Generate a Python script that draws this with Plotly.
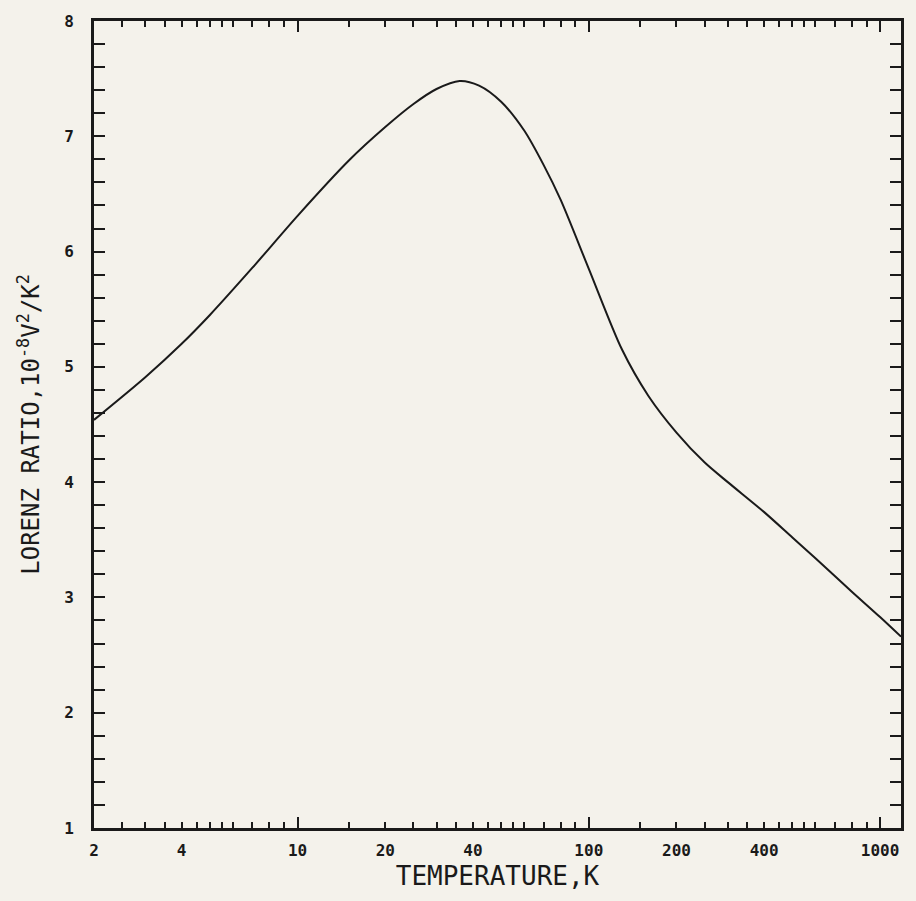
import math
import plotly.graph_objects as go

# Lorenz ratio vs temperature
temperature = [2, 3, 4, 5, 7, 10, 15, 20, 25, 30, 36, 42, 50, 60, 70, 80,
               100, 130, 160, 200, 250, 300, 400, 500, 600, 800, 1000, 1180]
lorenz = [4.54, 4.91, 5.20, 5.45, 5.86, 6.31, 6.79, 7.08, 7.28, 7.41, 7.48, 7.44,
          7.30, 7.05, 6.75, 6.45, 5.85, 5.15, 4.75, 4.43, 4.17, 4.00, 3.74, 3.52,
          3.34, 3.05, 2.83, 2.66]

# x tick layout
x_label_vals = [2, 4, 10, 20, 40, 100, 200, 400, 1000]
x_label_text = ['2', '4', '10', '20', '40', '100', '200', '400', '1000']
x_minor_vals = [2.5, 3, 3.5, 4.5, 5, 5.5, 6, 7, 8, 9,
                15, 25, 30, 35, 45, 50, 55, 60, 70, 80, 90,
                150, 250, 300, 350, 450, 500, 550, 600, 700, 800, 900]
x_decades = [10, 100, 1000]

bg = '#f4f2eb'
ink = '#1a1a1a'
xr = [math.log10(2), math.log10(1180)]

fig = go.Figure()
fig.add_trace(go.Scatter(x=temperature, y=lorenz, mode='lines',
                         line=dict(color=ink, width=2, shape='spline', smoothing=0.8),
                         showlegend=False, hoverinfo='skip'))
# dummy trace so the overlay axis with long decade ticks is drawn
fig.add_trace(go.Scatter(x=[], y=[], xaxis='x2', showlegend=False))

fig.update_layout(
    width=916, height=901,
    paper_bgcolor=bg, plot_bgcolor=bg,
    margin=dict(l=94, r=13, t=15, b=73),
    font=dict(family='DejaVu Sans Mono', color=ink),
    xaxis=dict(
        type='log', range=xr,
        tickmode='array', tickvals=x_label_vals, ticktext=x_label_text,
        ticks='inside', ticklen=6, tickwidth=2, tickcolor=ink,
        minor=dict(tickmode='array', tickvals=x_minor_vals, ticks='inside',
                   ticklen=6, tickwidth=2, tickcolor=ink, showgrid=False),
        showline=True, linewidth=3, linecolor=ink, mirror='allticks',
        showgrid=False, zeroline=False,
        tickfont=dict(size=16, family='DejaVu Sans Mono', weight='bold'),
        ticklabelstandoff=6,
        title=dict(text='TEMPERATURE,K', font=dict(size=26), standoff=8),
    ),
    xaxis2=dict(
        type='log', range=xr, overlaying='x', side='bottom',
        tickmode='array', tickvals=x_decades, showticklabels=False,
        ticks='inside', ticklen=11, tickwidth=2, tickcolor=ink,
        showline=True, linewidth=3, linecolor=ink, mirror='allticks',
        showgrid=False, zeroline=False,
    ),
    yaxis=dict(
        range=[1, 8], tickmode='linear', tick0=1, dtick=1,
        ticks='inside', ticklen=11, tickwidth=2, tickcolor=ink,
        minor=dict(tickmode='linear', tick0=1, dtick=0.2, ticks='inside',
                   ticklen=6, tickwidth=2, tickcolor=ink, showgrid=False),
        showline=True, linewidth=3, linecolor=ink, mirror='allticks',
        showgrid=False, zeroline=False,
        tickfont=dict(size=16, family='DejaVu Sans Mono', weight='bold'),
        ticklabelstandoff=14,
        title=dict(text='LORENZ RATIO,10<sup>-8</sup>V<sup>2</sup>/K<sup>2</sup>',
                   font=dict(size=24), standoff=18),
    ),
)

# drop the default 8px page margin so the figure sits at the window origin
fig.write_html("out.html",
               config=dict(displayModeBar=False),
               post_script="document.body.style.margin='0';"
                           "document.body.style.background='%s';" % bg)
